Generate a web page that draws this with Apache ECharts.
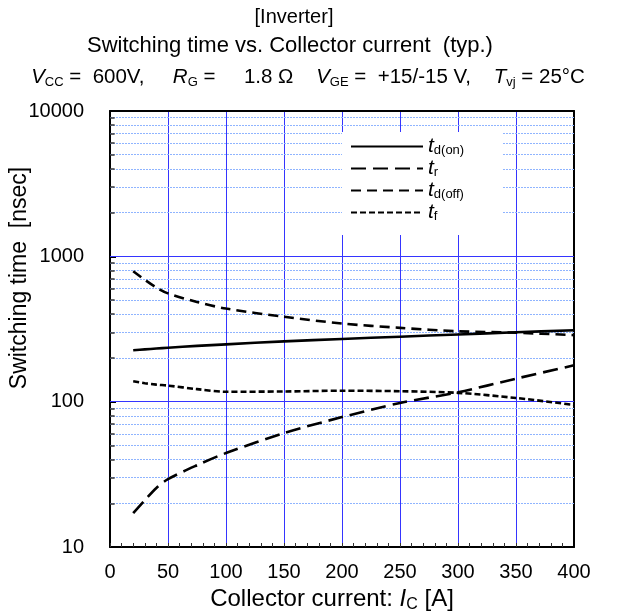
<!DOCTYPE html>
<html lang="en">
<head>
<meta charset="UTF-8">
<title>Switching time vs. Collector current</title>
<script src="https://cdn.jsdelivr.net/npm/echarts@6/dist/echarts.min.js"></script>
<style>
    body { margin: 0; background: #fff; }
    #chart { width: 622px; height: 615px; }
</style>
</head>
<body>
<div id="chart"></div>
<script>
// collector current [A]
const current = [20, 30, 40, 50, 75, 100, 150, 200, 250, 300, 350, 400];
// switching times [nsec]
const tdOn  = [226, 229, 232, 235, 242, 248, 260, 270, 280, 290, 300, 310];
const tr    = [17.1, 21, 25.5, 29.3, 36.5, 44.3, 60.8, 78.3, 98, 116, 144, 178];
const tdOff = [790, 690, 610, 556, 485, 437, 384, 345, 322, 305, 298, 287];
const tf    = [138, 134, 131, 129, 122, 117, 117.5, 119, 118, 115, 106, 95];

// log grid lines: decades inside the plot, and 2..9 of each decade
const majorGrid = [100, 1000];
const minorGrid = [20, 30, 40, 50, 60, 70, 80, 90,
                   200, 300, 400, 500, 600, 700, 800, 900,
                   2000, 3000, 4000, 5000, 6000, 7000, 8000, 9000];

const FONT = "'Liberation Sans', Arial, sans-serif";
const chart = echarts.init(document.getElementById('chart'));

function pairs(ys) {
    return current.map((x, i) => [x, ys[i]]);
}

function curve(name, ys, dash) {
    return {
        name: name,
        type: 'line',
        data: pairs(ys),
        smooth: 0.3,
        symbol: 'none',
        z: 5,
        itemStyle: { color: '#000' },
        lineStyle: { color: '#000', width: 2.6, type: dash }
    };
}

// helper series that only carries grid lines
function gridLines(name, z, style, data) {
    return {
        name: name,
        type: 'line',
        data: [],
        z: z,
        markLine: {
            silent: true,
            symbol: 'none',
            label: { show: false },
            lineStyle: style,
            data: data
        }
    };
}

// rich text styles: normal, italic symbol, subscript
function richSet(size, sub, drop) {
    return {
        n: { fontSize: size, fontFamily: FONT, color: '#000', lineHeight: size + 4 },
        i: { fontSize: size, fontFamily: FONT, fontStyle: 'italic', color: '#000', lineHeight: size + 4 },
        s: { fontSize: sub, fontFamily: FONT, color: '#000', lineHeight: sub + 2, padding: [drop, 0, 0, 0] }
    };
}

const option = {
    backgroundColor: '#fff',
    animation: false,
    grid: { left: 110, top: 111, width: 464, height: 436, show: false },
    legend: {
        orient: 'vertical',
        left: 342,
        top: 132,
        z: 6,
        backgroundColor: '#fff',
        padding: [4, 38, 12, 8],
        itemWidth: 72,
        itemHeight: 14,
        itemGap: 1,
        data: ['t_d(on)', 't_r', 't_d(off)', 't_f'],
        formatter: n => '{i|t}{s|' + n.slice(2) + '}',
        itemStyle: { opacity: 0 },
        textStyle: {
            color: '#000',
            rich: {
                i: { fontSize: 21, fontFamily: FONT, fontStyle: 'italic', color: '#000', lineHeight: 22 },
                s: { fontSize: 13, fontFamily: FONT, color: '#000', lineHeight: 14, padding: [8, 0, 0, 0] }
            }
        }
    },
    xAxis: [{
        type: 'value',
        min: 0, max: 400, interval: 50,
        axisLine: { onZero: false, lineStyle: { color: '#000', width: 2 } },
        axisTick: { inside: true, length: 4, lineStyle: { color: '#333' } },
        minorTick: { show: true, splitNumber: 5, length: 4, lineStyle: { color: '#333' } },
        axisLabel: { color: '#000', fontSize: 20, fontFamily: FONT, margin: 15 },
        splitLine: { show: true, lineStyle: { color: '#3535ff', width: 1 } }
    }, {
        type: 'value', position: 'top', min: 0, max: 400, z: 3,
        axisLine: { show: true, onZero: false, lineStyle: { color: '#000', width: 2 } },
        axisTick: { show: false }, axisLabel: { show: false }, splitLine: { show: false }
    }],
    yAxis: [{
        type: 'log',
        min: 10, max: 10000, logBase: 10,
        axisLine: { show: true, onZero: false, lineStyle: { color: '#000', width: 2 } },
        axisTick: { show: true, inside: true, length: 6, lineStyle: { color: '#000', width: 2 } },
        axisLabel: { color: '#000', fontSize: 20, fontFamily: FONT, margin: 26, formatter: v => String(v) },
        splitLine: { show: false }
    }, {
        type: 'value', position: 'right', min: 0, max: 1, z: 3,
        axisLine: { show: true, onZero: false, lineStyle: { color: '#000', width: 2 } },
        axisTick: { show: false }, axisLabel: { show: false }, splitLine: { show: false }
    }],
    graphic: [
        { type: 'text', x: 294, y: 17, style: { text: '[Inverter]', align: 'center', verticalAlign: 'middle', fontSize: 20, fontFamily: FONT, fill: '#000' } },
        { type: 'text', x: 290, y: 46, style: { text: 'Switching time vs. Collector current  (typ.)', align: 'center', verticalAlign: 'middle', fontSize: 22, fontFamily: FONT, fill: '#000' } },
        { type: 'text', x: 308, y: 77, style: {
            text: '{i|V}{s|CC}{n| =  600V,     }{i|R}{s|G}{n| =     1.8 Ω    }{i|V}{s|GE}{n| =  +15/-15 V,    }{i|T}{s|vj}{n| = 25°C}',
            align: 'center', verticalAlign: 'middle', rich: richSet(20.5, 13, 11) } },
        { type: 'text', x: 332, y: 599, style: {
            text: '{n|Collector current: }{i|I}{s|C}{n| [A]}',
            align: 'center', verticalAlign: 'middle', rich: richSet(24, 16, 12) } },
        { type: 'text', x: 20, y: 278, rotation: Math.PI / 2, style: {
            text: 'Switching time  [nsec]', align: 'center', verticalAlign: 'middle',
            fontSize: 23, fontFamily: FONT, fill: '#000' } }
    ],
    series: [
        gridLines('minor grid', 1, { color: '#8fb4ff', width: 1, type: [2, 1] },
            minorGrid.map(v => ({ yAxis: v }))),
        gridLines('major grid', 2, { color: '#3535ff', width: 1.2, type: 'solid' },
            majorGrid.map(v => ({ yAxis: v }))),
        gridLines('minor ticks', 3, { color: '#333', width: 1.5, type: 'solid' },
            minorGrid.map(v => [{ coord: [0, v] }, { coord: [4, v] }])),
        curve('t_d(on)', tdOn, 'solid'),
        curve('t_r', tr, [15, 7]),
        curve('t_d(off)', tdOff, [10, 6]),
        curve('t_f', tf, [6, 3])
    ]
};

chart.setOption(option);
</script>
</body>
</html>
